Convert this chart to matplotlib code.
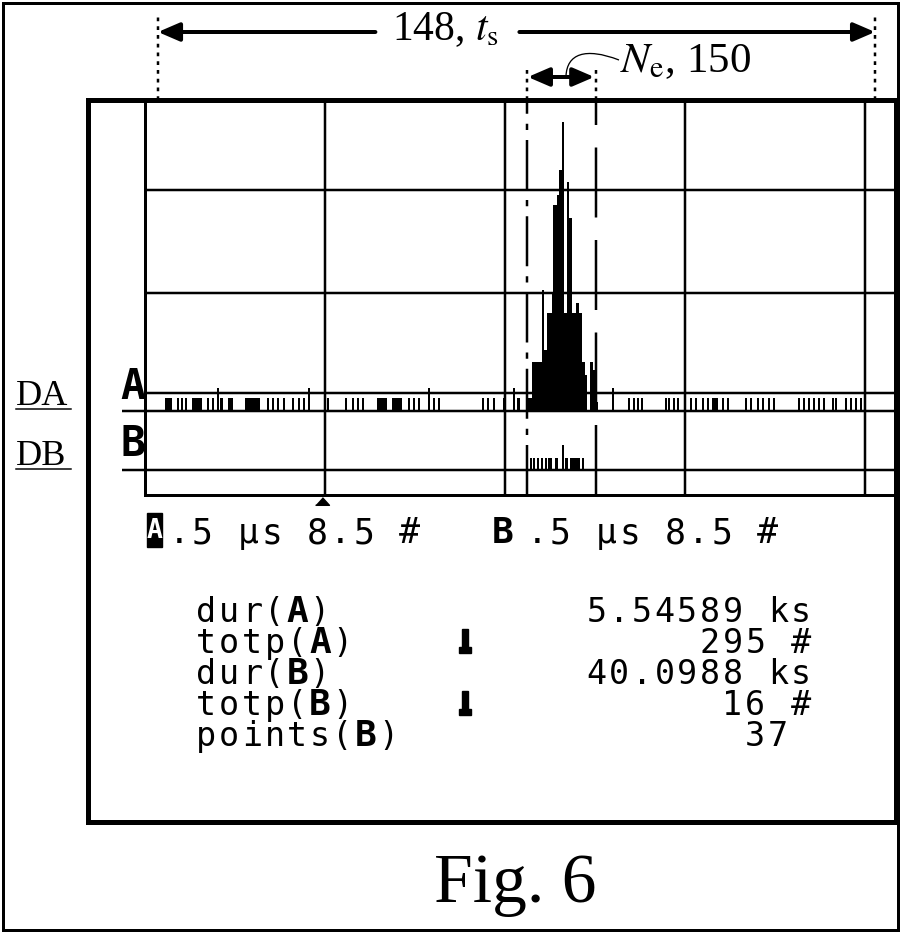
import matplotlib
matplotlib.use("Agg")
import matplotlib.pyplot as plt
from matplotlib.patches import Rectangle, PathPatch
from matplotlib.path import Path

plt.rcParams['mathtext.fontset'] = 'stix'
SERIF = ['Liberation Serif', 'DejaVu Serif']
MONO = ['DejaVu Sans Mono']

# ---------------- data (screen divisions) ----------------
# channel A: background counts (left edge, width, height)
a_noise_left = [0.111, 0.178, 0.200, 0.222, 0.261, 0.344, 0.372, 0.400, 0.417, 0.461,
                0.556, 0.678, 0.706, 0.733, 0.767, 0.817, 0.850, 0.878, 0.906, 1.011,
                1.111, 1.150, 1.178, 1.206, 1.289, 1.372, 1.461, 1.489, 1.517, 1.572,
                1.600, 1.628, 1.872, 1.900, 1.933, 1.989, 2.044, 2.067,
                2.594, 2.683, 2.711, 2.733, 2.756, 2.889, 2.906, 2.933, 2.956, 3.028,
                3.056, 3.094, 3.122, 3.150, 3.206, 3.233, 3.333, 3.361, 3.400, 3.428,
                3.461, 3.489, 3.628, 3.656, 3.683, 3.711, 3.739, 3.767, 3.817, 3.833,
                3.889, 3.917, 3.944, 3.972]
a_noise_width = [0.039, 0.012, 0.012, 0.012, 0.056, 0.012, 0.012, 0.012, 0.017, 0.028,
                 0.083, 0.012, 0.012, 0.012, 0.012, 0.012, 0.012, 0.012, 0.012, 0.012,
                 0.012, 0.012, 0.012, 0.012, 0.056, 0.056, 0.012, 0.012, 0.012, 0.012,
                 0.012, 0.012, 0.012, 0.012, 0.012, 0.012, 0.012, 0.017,
                 0.012, 0.012, 0.012, 0.012, 0.012, 0.012, 0.012, 0.012, 0.012, 0.012,
                 0.012, 0.012, 0.012, 0.033, 0.012, 0.012, 0.012, 0.012, 0.012, 0.012,
                 0.012, 0.012, 0.012, 0.012, 0.012, 0.012, 0.012, 0.012, 0.012, 0.012,
                 0.012, 0.012, 0.012, 0.012]
a_noise_height = [0.13, 0.13, 0.13, 0.13, 0.13, 0.13, 0.13, 0.23, 0.13, 0.13,
                  0.13, 0.13, 0.13, 0.13, 0.13, 0.13, 0.13, 0.13, 0.23, 0.13,
                  0.13, 0.13, 0.13, 0.13, 0.13, 0.13, 0.13, 0.13, 0.13, 0.23,
                  0.13, 0.13, 0.13, 0.13, 0.13, 0.13, 0.23, 0.13,
                  0.23, 0.13, 0.13, 0.13, 0.13, 0.13, 0.13, 0.13, 0.13, 0.13,
                  0.13, 0.13, 0.13, 0.13, 0.13, 0.13, 0.13, 0.13, 0.13, 0.13,
                  0.13, 0.13, 0.13, 0.13, 0.13, 0.13, 0.13, 0.13, 0.13, 0.13,
                  0.13, 0.13, 0.13, 0.13]
# channel A: coincidence peak
a_peak_left = [2.128, 2.150, 2.206, 2.214, 2.233, 2.261, 2.269, 2.289, 2.300, 2.317,
               2.325, 2.344, 2.356, 2.372, 2.394, 2.411, 2.428, 2.444, 2.472, 2.489, 2.511]
a_peak_width = [0.022, 0.056, 0.008, 0.019, 0.028, 0.008, 0.020, 0.011, 0.017, 0.008,
                0.019, 0.012, 0.016, 0.022, 0.017, 0.017, 0.016, 0.011, 0.017, 0.022, 0.008]
a_peak_height = [0.13, 0.49, 1.21, 0.61, 0.98, 1.19, 2.06, 2.16, 2.41, 2.89,
                 0.98, 2.29, 1.93, 0.98, 1.08, 0.98, 0.49, 0.36, 0.49, 0.41, 0.09]
# channel B
b_left = [2.139, 2.156, 2.178, 2.200, 2.222, 2.239, 2.278, 2.317, 2.333, 2.361, 2.428]
b_width = [0.012, 0.012, 0.012, 0.012, 0.012, 0.022, 0.017, 0.012, 0.017, 0.056, 0.012]
b_height = [0.12, 0.12, 0.12, 0.12, 0.12, 0.12, 0.12, 0.25, 0.12, 0.12, 0.12]

a_base = 0.84
b_base = 0.25
grid_x = [1, 2, 3, 4]
grid_y = [0.25, 0.84, 1.02, 2.02, 3.05]
cursor_a = 2.122
cursor_b = 2.506
span_ts = (0.072, 4.056)
trigger_x = 0.983

label_ts = "148, $t_\\mathrm{s}$"
label_ne = "$N_\\mathrm{e}$, 150"
header_a = ".5 μs 8.5 #"
header_b = ".5 μs 8.5 #"
stat_prefix = ["dur(", "totp(", "dur(", "totp(", "points("]
stat_chan = ["A", "A", "B", "B", "B"]
stat_values = ["5.54589 ks", "295 #", "40.0988 ks", "16 #", "37 "]
stat_trigger = [False, True, False, True, False]

# ---------------- figure ----------------
W, H = 900, 932
PT = 72 / 100.0  # points per pixel
fig = plt.figure(figsize=(W / 100, H / 100), dpi=100)
bg = fig.add_axes([0, 0, 1, 1])
bg.set_xlim(0, W)
bg.set_ylim(H, 0)
bg.axis('off')

bg.add_patch(Rectangle((2.5, 2.5), W - 5, H - 5, fill=False, lw=3 * PT, ec='k'))
bg.add_patch(Rectangle((88, 100), 808, 722, fill=False, lw=5 * PT, ec='k', zorder=5))

X0, X1, Y0, Y1 = 145, 896, 100, 495
sc = fig.add_axes([X0 / W, 1 - Y1 / H, (X1 - X0) / W, (Y1 - Y0) / H])
sc.set_xlim(0, (X1 - X0) / 180)
sc.set_ylim(0, (Y1 - Y0) / 100)
sc.patch.set_alpha(0)
for s in ['top', 'right']:
    sc.spines[s].set_visible(False)
for s in ['left', 'bottom']:
    sc.spines[s].set_linewidth(3 * PT)
sc.set_xticks([])
sc.set_yticks([])
ytop = sc.get_ylim()[1]

for gx in grid_x:
    sc.axvline(gx, color='k', lw=2.5 * PT)
for gy in grid_y:
    sc.axhline(gy, color='k', lw=2.5 * PT)
sc.hlines([a_base, b_base], -0.128, 0, color='k', lw=2.5 * PT, clip_on=False)

sc.bar(a_noise_left, a_noise_height, width=a_noise_width, bottom=a_base,
       align='edge', color='k', lw=0)
sc.bar(a_peak_left, a_peak_height, width=a_peak_width, bottom=a_base,
       align='edge', color='k', lw=0)
sc.bar(b_left, b_height, width=b_width, bottom=b_base,
       align='edge', color='k', lw=0)

# cursors
sc.plot([cursor_a] * 2, [0, ytop], color='k', lw=2.5 * PT, dashes=(20, 4, 2.5, 4))
sc.plot([cursor_b] * 2, [0, ytop], color='k', lw=2.5 * PT, dashes=(28, 9))
sc.plot([cursor_a] * 2, [ytop, 4.27], color='k', lw=2.5 * PT, dashes=(1.5, 2), clip_on=False)
sc.plot([cursor_b] * 2, [ytop, 4.27], color='k', lw=2.5 * PT, dashes=(1.5, 2), clip_on=False)
for sx in span_ts:
    sc.plot([sx, sx], [ytop, 4.78], color='k', lw=2.5 * PT, dashes=(1.5, 2), clip_on=False)

# trigger marker
sc.plot([trigger_x], [-0.06], marker=[(-1, -0.55), (1, -0.55), (0, 0.55)], ms=10,
        color='k', clip_on=False, lw=0)

# span arrows
aprops = dict(arrowstyle='-|>,head_length=0.65,head_width=0.28', lw=4 * PT, color='k',
              shrinkA=0, shrinkB=0, mutation_scale=20)
sc.annotate('', xy=(span_ts[0], 4.63), xytext=(1.28, 4.63), arrowprops=aprops,
            annotation_clip=False)
sc.annotate('', xy=(span_ts[1], 4.63), xytext=(2.08, 4.63), arrowprops=aprops,
            annotation_clip=False)
dprops = dict(arrowstyle='<|-|>,head_length=0.65,head_width=0.28', lw=4 * PT, color='k',
              shrinkA=0, shrinkB=0, mutation_scale=20)
sc.annotate('', xy=(cursor_a + 0.005, 4.18), xytext=(cursor_b - 0.01, 4.18), arrowprops=dprops,
            annotation_clip=False)
sc.text(1.67, 4.65, label_ts, ha='center', va='center', fontsize=30, family=SERIF,
        clip_on=False)
sc.text(2.64, 4.33, label_ne, ha='left', va='center', fontsize=31, family=SERIF,
        clip_on=False)
leader = Path([(566, 76), (567, 54), (585, 47), (619, 60)],
              [Path.MOVETO, Path.CURVE4, Path.CURVE4, Path.CURVE4])
bg.add_patch(PathPatch(leader, fill=False, lw=1.3 * PT, ec='k'))

# channel labels
bg.text(133, 387, 'A', fontsize=30, family=MONO, weight='bold', ha='center', va='center')
bg.text(133, 444, 'B', fontsize=30, family=MONO, weight='bold', ha='center', va='center')
bg.text(16, 405, 'DA', fontsize=26, family=SERIF, ha='left', va='baseline')
bg.text(16, 465, 'DB', fontsize=26, family=SERIF, ha='left', va='baseline')
bg.plot([16, 71], [409, 409], color='k', lw=1.5 * PT)
bg.plot([16, 71], [469, 469], color='k', lw=1.5 * PT)


def mono(x, y, s, fs, pitch, bold=(), **kw):
    """draw string s on a fixed character grid starting at x (cell left edge)."""
    for i, ch in enumerate(s):
        if ch == ' ':
            continue
        w = 'bold' if i in bold else 'normal'
        f = fs + 2 if i in bold else fs
        bg.text(x + (i + 0.5) * pitch, y, ch, fontsize=f, family=MONO, weight=w,
                ha='center', va='baseline', **kw)


# header row
FS = 25
bg.add_patch(Rectangle((147, 513), 15, 34, color='k'))
bg.text(154.5, 531, 'A', color='white', fontsize=19, family=MONO, weight='bold',
        ha='center', va='center')
mono(168, 543, header_a, FS, 23.0)
bg.text(503, 543, 'B', fontsize=26, family=MONO, weight='bold', ha='center', va='baseline')
mono(526, 543, header_b, FS, 23.0)

# statistics block
P = 22.7
xl, xr = 195, 812
for i in range(len(stat_prefix)):
    yb = 622 + i * 31
    s = stat_prefix[i] + stat_chan[i] + ")"
    mono(xl, yb, s, FS - 1, P, bold=(len(stat_prefix[i]),))
    v = stat_values[i]
    mono(xr - len(v) * P, yb, v, FS - 1, P)
    if stat_trigger[i]:
        bg.add_patch(Rectangle((462, yb - 24), 6, 19, color='k'))
        bg.add_patch(Rectangle((459, yb - 6), 12, 6, color='k'))

bg.text(515, 902, 'Fig. 6', fontsize=50, family=SERIF, ha='center', va='baseline')

fig.savefig('out.png', dpi=100)
